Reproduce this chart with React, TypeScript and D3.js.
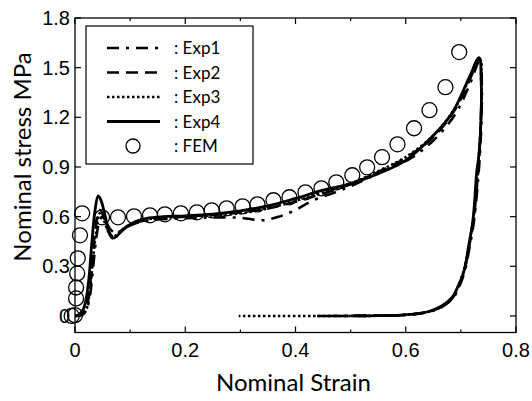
import React from 'react';
import * as d3 from 'd3';

type Pt = [number, number];

// strain, stress (MPa)
const exp1: Pt[] = [
  [0, 0], [0.012, 0.005], [0.02, 0.03], [0.027, 0.12], [0.033, 0.3], [0.039, 0.48], [0.045, 0.58],
  [0.05, 0.6], [0.056, 0.57], [0.065, 0.52], [0.075, 0.5], [0.09, 0.53], [0.11, 0.56], [0.14, 0.58],
  [0.2, 0.59], [0.25, 0.595], [0.3, 0.593], [0.34, 0.578], [0.37, 0.6], [0.4, 0.64], [0.43, 0.695],
  [0.49, 0.77], [0.55, 0.86], [0.61, 0.955], [0.65, 1.06], [0.69, 1.22], [0.715, 1.39], [0.735, 1.55],
  [0.738, 1.4], [0.737, 1.15], [0.733, 0.9], [0.724, 0.58], [0.716, 0.42], [0.707, 0.27], [0.696, 0.17],
  [0.685, 0.105], [0.666, 0.055], [0.645, 0.028], [0.624, 0.014], [0.59, 0.005], [0.55, 0.002], [0.46, 0.0],
];
const exp2: Pt[] = [
  [0, 0], [0.012, 0.008], [0.02, 0.04], [0.026, 0.15], [0.032, 0.36], [0.038, 0.55], [0.045, 0.64],
  [0.052, 0.6], [0.06, 0.52], [0.068, 0.48], [0.08, 0.5], [0.1, 0.55], [0.13, 0.58], [0.2, 0.6],
  [0.25, 0.61], [0.3, 0.625], [0.35, 0.65], [0.4, 0.69], [0.45, 0.74], [0.5, 0.795], [0.55, 0.87],
  [0.6, 0.955], [0.65, 1.08], [0.69, 1.25], [0.715, 1.42], [0.734, 1.555],
  [0.737, 1.4], [0.736, 1.15], [0.732, 0.9], [0.723, 0.58], [0.715, 0.42], [0.706, 0.27], [0.695, 0.17],
  [0.684, 0.105], [0.665, 0.055], [0.644, 0.028], [0.622, 0.013], [0.59, 0.004], [0.55, 0.001], [0.43, 0.0],
];
const exp3: Pt[] = [
  [0, 0], [0.012, 0.008], [0.02, 0.035], [0.026, 0.13], [0.032, 0.32], [0.038, 0.5], [0.045, 0.62],
  [0.052, 0.58], [0.062, 0.5], [0.07, 0.48], [0.085, 0.52], [0.11, 0.57], [0.15, 0.59], [0.2, 0.6],
  [0.3, 0.62], [0.35, 0.65], [0.4, 0.695], [0.45, 0.745], [0.5, 0.8], [0.55, 0.875], [0.6, 0.96],
  [0.65, 1.09], [0.69, 1.26], [0.715, 1.43], [0.734, 1.55],
  [0.737, 1.4], [0.736, 1.15], [0.731, 0.9], [0.722, 0.58], [0.714, 0.42], [0.705, 0.27], [0.694, 0.17],
  [0.683, 0.105], [0.664, 0.055], [0.643, 0.027], [0.621, 0.013], [0.59, 0.004], [0.55, 0.001], [0.297, 0.0],
];
const exp4: Pt[] = [
  [0, 0], [0.008, 0.01], [0.015, 0.04], [0.02, 0.1], [0.025, 0.22], [0.031, 0.46], [0.036, 0.63],
  [0.042, 0.725], [0.047, 0.7], [0.055, 0.6], [0.062, 0.5], [0.068, 0.47], [0.075, 0.48], [0.09, 0.53],
  [0.11, 0.57], [0.13, 0.59], [0.16, 0.6], [0.2, 0.605], [0.25, 0.615], [0.3, 0.635], [0.35, 0.665],
  [0.4, 0.71], [0.45, 0.76], [0.5, 0.8], [0.55, 0.86], [0.6, 0.94], [0.65, 1.09], [0.684, 1.225],
  [0.715, 1.44], [0.733, 1.56],
  [0.737, 1.4], [0.736, 1.15], [0.732, 0.95], [0.729, 0.88], [0.722, 0.58], [0.714, 0.42], [0.706, 0.275],
  [0.695, 0.18], [0.684, 0.112], [0.665, 0.06], [0.645, 0.03], [0.624, 0.015], [0.59, 0.005], [0.55, 0.002], [0.5, 0.0],
];
const fem: Pt[] = [
  [-0.006, 0.0], [0.0, 0.005], [0.002, 0.106], [0.002, 0.172], [0.004, 0.257], [0.005, 0.348], [0.009, 0.487],
  [0.013, 0.62], [0.049, 0.596], [0.078, 0.596], [0.107, 0.602], [0.136, 0.608], [0.163, 0.614],
  [0.192, 0.62], [0.221, 0.626], [0.248, 0.638], [0.275, 0.65], [0.304, 0.662], [0.331, 0.674],
  [0.36, 0.699], [0.389, 0.717], [0.418, 0.747], [0.447, 0.771], [0.474, 0.807], [0.503, 0.85],
  [0.53, 0.898], [0.557, 0.959], [0.585, 1.037], [0.615, 1.134], [0.643, 1.243], [0.672, 1.382], [0.697, 1.594],
];

const seriesNames = [': Exp1', ': Exp2', ': Exp3', ': Exp4', ': FEM'];
const xTicks = [0, 0.2, 0.4, 0.6, 0.8];
const xMinorTicks = [0.1, 0.3, 0.5, 0.7];
const yTicks = [0, 0.3, 0.6, 0.9, 1.2, 1.5, 1.8];

const W = 532, H = 401;
const left = 75, right = 516, top = 18, bottom = 332.5;

export default function App() {
  const x = d3.scaleLinear().domain([0, 0.8]).range([left, right]);
  const y = d3.scaleLinear().domain([-0.1, 1.8]).range([bottom, top]);
  const line = d3.line<Pt>().x(d => x(d[0])).y(d => y(d[1])).curve(d3.curveCatmullRom.alpha(0.5));

  const styles = [
    { data: exp1, dash: '12,7,3,7', w: 2.6 },
    { data: exp2, dash: '12,7', w: 2.6 },
    { data: exp3, dash: '2.5,2.5', w: 2.6 },
    { data: exp4, dash: undefined, w: 2.8 },
  ];

  const tickFont = { fontFamily: '"Liberation Sans", Arial, sans-serif', fontSize: 20 };
  const labelFont = { fontFamily: 'Lato, "Open Sans", sans-serif', fontSize: 24 };
  const legY = [48, 72.5, 97, 121.5, 146];

  return (
    <svg width={W} height={H} style={{ position: 'absolute', left: 0, top: 0, background: '#fff' }}>
      {/* curves */}
      {styles.map((s, i) => (
        <path key={i} d={line(s.data) || ''} fill="none" stroke="#000" strokeWidth={s.w}
          strokeDasharray={s.dash} strokeLinejoin="round" />
      ))}
      {fem.map((d, i) => (
        <circle key={i} cx={x(d[0])} cy={y(d[1])} r={7.5} fill="none" stroke="#000" strokeWidth={1.3} />
      ))}

      {/* frame */}
      <rect x={left} y={top} width={right - left} height={bottom - top} fill="none" stroke="#000" strokeWidth={1.3} />
      {xTicks.map(t => (
        <g key={t}>
          <line x1={x(t)} x2={x(t)} y1={bottom} y2={bottom - 6} stroke="#000" strokeWidth={1.2} />
          <line x1={x(t)} x2={x(t)} y1={top} y2={top + 6} stroke="#000" strokeWidth={1.2} />
          <text x={x(t)} y={357} textAnchor="middle" {...tickFont}>{d3.format('~g')(t)}</text>
        </g>
      ))}
      {xMinorTicks.map(t => (
        <g key={t}>
          <line x1={x(t)} x2={x(t)} y1={bottom} y2={bottom - 3} stroke="#000" strokeWidth={1.2} />
          <line x1={x(t)} x2={x(t)} y1={top} y2={top + 3} stroke="#000" strokeWidth={1.2} />
        </g>
      ))}
      {yTicks.map(t => (
        <g key={t}>
          <line x1={left} x2={left + 6} y1={y(t)} y2={y(t)} stroke="#000" strokeWidth={1.2} />
          <line x1={right} x2={right - 6} y1={y(t)} y2={y(t)} stroke="#000" strokeWidth={1.2} />
          <text x={70} y={y(t) + 7} textAnchor="end" {...tickFont}>{d3.format('~g')(t)}</text>
        </g>
      ))}

      <text x={(left + right) / 2 - 2} y={391} textAnchor="middle" {...labelFont}>Nominal Strain</text>
      <text transform={`translate(31,157) rotate(-90)`} textAnchor="middle" {...labelFont}>
        Nominal stress MPa
      </text>

      {/* legend */}
      <rect x={86} y={26} width={167} height={138} fill="#fff" stroke="#000" strokeWidth={1.2} />
      {styles.map((s, i) => (
        <line key={i} x1={107} x2={160} y1={legY[i]} y2={legY[i]} stroke="#000" strokeWidth={s.w} strokeDasharray={s.dash} />
      ))}
      <circle cx={133} cy={legY[4]} r={7} fill="none" stroke="#000" strokeWidth={1.3} />
      {seriesNames.map((n, i) => (
        <text key={n} x={174} y={legY[i] + 6} fontFamily='Lato, "Open Sans", sans-serif' fontSize={17}>{n}</text>
      ))}
    </svg>
  );
}
